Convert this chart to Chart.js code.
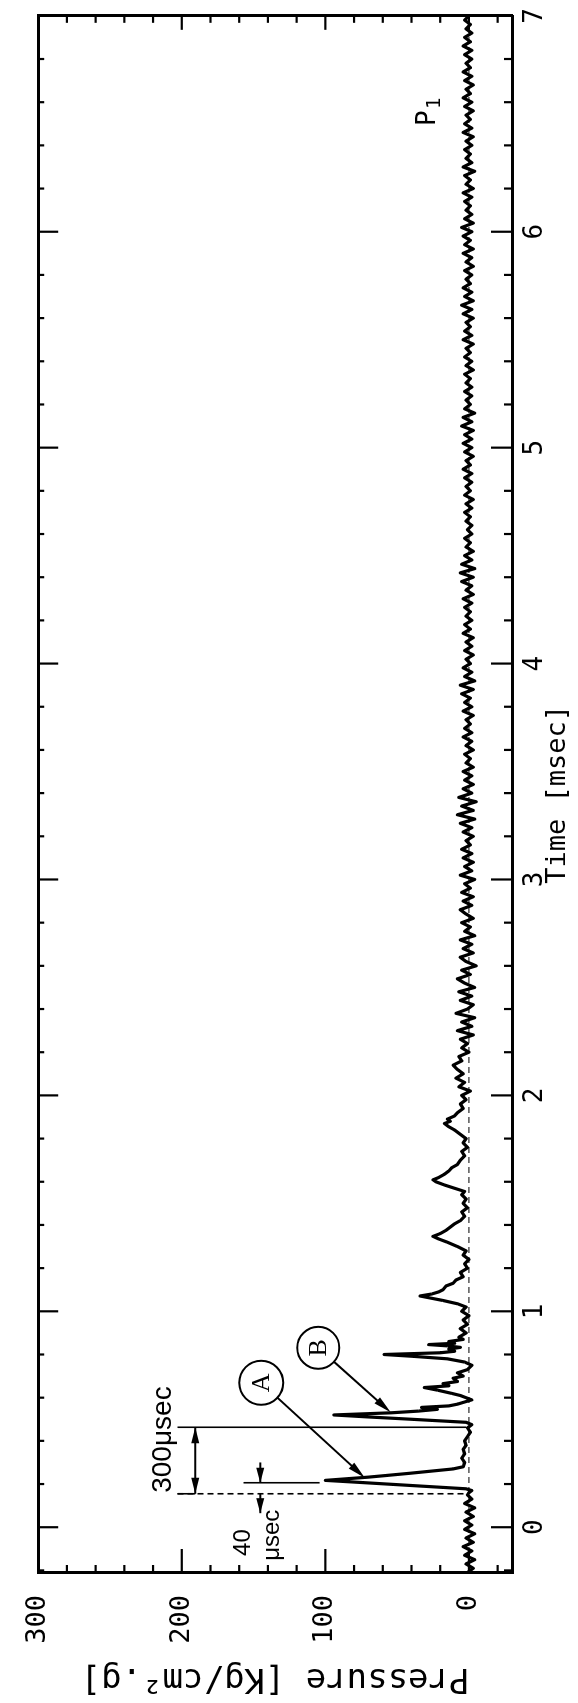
<!DOCTYPE html>
<html><head><meta charset="utf-8">
<script src="https://cdn.jsdelivr.net/npm/chart.js@4.4.1/dist/chart.umd.min.js"></script>
<style>
html,body{margin:0;padding:0;width:578px;height:1703px;overflow:hidden;background:#fff;}
#wrap{position:absolute;left:0;top:0;width:1703px;height:578px;transform-origin:0 0;transform:translate(0px,1703px) rotate(-90deg);}
canvas{display:block;}
</style></head><body>
<div id="wrap"><canvas id="c" width="1703" height="578"></canvas></div>
<script>
// ---------- data ----------
const timeTicks = [0, 1, 2, 3, 4, 5, 6, 7];
const timeTickLabels = ['0', '1', '2', '3', '4', '5', '6', '7'];
const pressureTicks = [0, 100, 200, 300];
const pressureTickLabels = ['0', '100', '200', '300'];

// baseline before the first spike (time = start + i*step, ms)
const noiseAStart = -0.21, noiseAStep = 0.02;
const noiseA = [1,-3,2,-4,3,-2,4,-3,2,-4,3,-2,3,-3,2,-4,3,-2,1];

// detailed part with the pressure spikes (ms, kg/cm2.g)
const detailTime = [
 0.16,0.17,0.178,0.19,0.20,0.21,0.217,0.232,0.24,0.25,0.26,0.27,0.28,
 0.30,0.32,0.34,0.36,0.38,0.40,0.42,0.44,0.46,0.475,0.486,
 0.50,0.51,0.52,0.53,0.538,0.546,0.555,0.562,0.57,0.58,0.59,
 0.60,0.61,0.62,0.635,0.647,0.655,0.665,0.675,0.69,0.70,0.715,0.73,0.75,0.765,
 0.78,0.792,0.80,0.808,0.815,0.825,0.833,0.84,0.846,0.852,0.86,0.87,0.88,
 0.90,0.92,0.94,0.96,0.98,1.00,1.02,
 1.035,1.05,1.063,1.071,1.08,1.09,1.10,1.117,1.13,1.145,1.16,1.18,1.20,1.22,1.24,1.26,1.28,
 1.30,1.32,1.335,1.347,1.36,1.375,1.39,1.405,1.42,1.44,1.46,1.48,1.50,1.52,1.54,1.555,
 1.57,1.585,1.60,1.609,1.62,1.635,1.65,1.665,1.68,1.70,1.72,1.74,1.76,1.78,1.80,
 1.82,1.84,1.855,1.87,1.88,1.89,1.905,1.92,1.94,1.96,1.98,
 2.00,2.02,2.04,2.06,2.08,2.10,2.12,2.14,2.16,2.18,2.20,2.22,2.24
];
const detailPressure = [
 0,-2,2,32,57,82,100,70,57,41,26,11,4,
 3,5,3,4,2,3,1,-1,1,-2,2,
 40,68,94,54,35,22,33,14,8,3,-2,
 2,6,12,22,31,14,18,8,11,4,8,1,-2,3,
 15,40,59,20,10,14,6,15,28,10,14,4,7,
 2,6,1,4,0,5,2,
 8,18,28,34,26,21,18,16,11,9,4,6,1,3,0,4,2,
 8,15,21,25,20,16,13,10,6,3,5,1,4,2,5,3,
 10,17,23,25,21,17,14,12,8,6,3,5,1,4,2,
 6,10,14,17,13,15,10,8,4,6,2,
 5,-1,7,3,9,4,8,11,5,7,0,5,1
];

// baseline after 2.26 ms (time = start + i*step, ms)
const noiseCStart = 2.26, noiseCStep = 0.02;
const noiseC = [
 6,-3,8,-2,5,-4,9,1,-3,6,
 -2,7,-4,3,8,-1,5,-5,2,6,
 -3,4,-2,6,-4,3,-1,5,-3,2,
 6,-2,4,-3,5,-1,3,-4,6,-2,
 3,-3,4,-2,5,-1,2,-3,4,-2,
 6,-4,8,-3,5,-5,7,-2,4,-3,
 3,-2,4,-3,2,-1,3,-3,2,-2,
 4,-2,3,-1,2,-3,4,-2,3,-1,
 5,-3,6,-4,3,-2,4,-1,2,-3,
 3,-2,2,-3,4,-1,3,-2,2,-1,
 3,-2,4,-3,2,-2,5,-3,6,-4,
 5,-2,3,-3,2,-1,3,-2,1,-2,
 2,-1,3,-2,2,-3,3,-1,2,-2,
 3,-2,4,-1,2,-3,3,-2,4,-2,
 3,-3,5,-2,4,-4,3,-1,2,-2,
 3,-2,2,-1,3,-3,2,-2,3,-1,
 2,-3,4,-2,3,-1,2,-3,4,-2,
 5,-3,3,-2,4,-1,2,-2,3,-3,
 2,-2,4,-3,3,-1,4,-2,5,-3,
 3,-2,2,-1,3,-2,4,-3,2,-1,
 3,-4,4,-2,2,-1,3,-2,2,-3,
 4,-2,3,-1,2,-3,3,-2,4,-1,
 2,-3,3,-2,4,-1,2,-2,3,-2,
 4,-1,3,-2,2,-1,3,0
];

// ---------- build points ----------
const points = [];
noiseA.forEach((v, i) => points.push({x: +(noiseAStart + i * noiseAStep).toFixed(3), y: v}));
detailTime.forEach((t, i) => points.push({x: t, y: detailPressure[i]}));
noiseC.forEach((v, i) => points.push({x: +(noiseCStart + i * noiseCStep).toFixed(3), y: v}));

// ---------- annotation layout (data coordinates) ----------
const ann = {
  lowerT: 0.155, upperT: 0.463, extP0: 203, extP1: 2, bracketP: 190.6,
  fortyT: 0.206, fortyP0: 157, fortyP1: 104, fortyArrowP: 145.3,
  circA: {t: 0.669, p: 144.7, r: 22, tipT: 0.229, tipP: 72.5, label: 'A'},
  circB: {t: 0.831, p: 104.9, r: 21, tipT: 0.532, tipP: 54.5, label: 'B'},
  text300: {t: 0.406, p: 213}, text40: {t: -0.071, p: 157}, textMu: {t: -0.037, p: 136.6},
  p1: {t: 6.49, p: 23.3}
};

function drawArrowHead(ctx, x1, y1, x2, y2, len, half) {
  const a = Math.atan2(y2 - y1, x2 - x1);
  ctx.beginPath();
  ctx.moveTo(x2, y2);
  ctx.lineTo(x2 - len * Math.cos(a) + half * Math.sin(a), y2 - len * Math.sin(a) - half * Math.cos(a));
  ctx.lineTo(x2 - len * Math.cos(a) - half * Math.sin(a), y2 - len * Math.sin(a) + half * Math.cos(a));
  ctx.closePath();
  ctx.fill();
}
function seg(ctx, x1, y1, x2, y2) { ctx.beginPath(); ctx.moveTo(x1, y1); ctx.lineTo(x2, y2); ctx.stroke(); }

const annotPlugin = {
  id: 'annot',
  afterDatasetsDraw(chart) {
    const ctx = chart.ctx, xs = chart.scales.x, ys = chart.scales.y, ca = chart.chartArea;
    const X = v => xs.getPixelForValue(v), Y = v => ys.getPixelForValue(v);
    ctx.save();
    ctx.strokeStyle = '#000'; ctx.fillStyle = '#000';
    // zero reference line
    ctx.lineWidth = 1; ctx.setLineDash([6, 4]);
    seg(ctx, ca.left, Y(0), ca.right, Y(0));
    // extension lines
    ctx.lineWidth = 1.6;
    seg(ctx, X(ann.lowerT), Y(ann.extP0), X(ann.lowerT), Y(ann.extP1));
    ctx.setLineDash([]);
    seg(ctx, X(ann.upperT), Y(ann.extP0), X(ann.upperT), Y(ann.extP1));
    seg(ctx, X(ann.lowerT), Y(ann.extP0), X(ann.lowerT), Y(ann.bracketP));
    // bracket with arrows
    ctx.lineWidth = 2;
    const bx0 = X(ann.lowerT), bx1 = X(ann.upperT), by = Y(ann.bracketP);
    seg(ctx, bx0, by, bx1, by);
    drawArrowHead(ctx, bx0 + 30, by, bx1, by, 16, 4);
    drawArrowHead(ctx, bx1 - 30, by, bx0, by, 16, 4);
    // 40 usec marker
    ctx.lineWidth = 1.6;
    seg(ctx, X(ann.fortyT), Y(ann.fortyP0), X(ann.fortyT), Y(ann.fortyP1));
    ctx.lineWidth = 2;
    const fy = Y(ann.fortyArrowP);
    seg(ctx, X(0.30), fy, X(ann.fortyT), fy);
    drawArrowHead(ctx, X(0.30), fy, X(ann.fortyT), fy, 15, 4);
    seg(ctx, X(0.158), fy, X(0.065), fy);
    drawArrowHead(ctx, X(0.158), fy, X(0.065), fy, 15, 4);
    // circles with arrows
    [ann.circA, ann.circB].forEach(c => {
      const cx = X(c.t), cy = Y(c.p), tx = X(c.tipT), ty = Y(c.tipP);
      ctx.lineWidth = 2;
      ctx.beginPath(); ctx.arc(cx, cy, c.r, 0, Math.PI * 2); ctx.stroke();
      const d = Math.hypot(tx - cx, ty - cy), ux = (tx - cx) / d, uy = (ty - cy) / d;
      const sx = cx + ux * c.r, sy = cy + uy * c.r;
      seg(ctx, sx, sy, tx - ux * 6, ty - uy * 6);
      drawArrowHead(ctx, sx, sy, tx, ty, 18, 4);
      ctx.font = '26px "Liberation Serif"'; ctx.textAlign = 'center'; ctx.textBaseline = 'middle';
      ctx.fillText(c.label, cx, cy + 1);
    });
    // texts
    ctx.textAlign = 'center'; ctx.textBaseline = 'middle';
    ctx.font = '28px "Liberation Sans"';
    ctx.fillText('300\u03bcsec', X(ann.text300.t), Y(ann.text300.p));
    ctx.font = '24px "Liberation Sans"';
    ctx.fillText('40', X(ann.text40.t), Y(ann.text40.p));
    ctx.fillText('\u03bcsec', X(ann.textMu.t), Y(ann.textMu.p));
    // P1 label
    ctx.textAlign = 'left'; ctx.textBaseline = 'alphabetic';
    ctx.font = '26px "DejaVu Sans Mono"';
    const px = X(ann.p1.t), py = Y(ann.p1.p);
    ctx.fillText('P', px, py);
    ctx.font = '19px "DejaVu Sans Mono"';
    ctx.fillText('1', px + 17, py + 5);
    ctx.restore();
  },
  afterDraw(chart) {
    const ctx = chart.ctx, xs = chart.scales.x, ys = chart.scales.y, ca = chart.chartArea;
    ctx.save();
    ctx.strokeStyle = '#000'; ctx.lineWidth = 2.2; ctx.setLineDash([]);
    for (let k = -1; k <= 35; k++) {
      const t = k * 0.2;
      if (t < xs.min || t > xs.max) continue;
      const x = xs.getPixelForValue(t);
      const major = Math.abs(t - Math.round(t)) < 1e-6;
      seg(ctx, x, ca.bottom, x, ca.bottom - (major ? 21 : 8));
      seg(ctx, x, ca.top, x, ca.top + (major ? 20 : 6));
    }
    for (let v = -20; v <= 280; v += 20) {
      const y = ys.getPixelForValue(v);
      const major = v % 100 === 0;
      seg(ctx, ca.left, y, ca.left + (major ? 24 : 8), y);
      seg(ctx, ca.right, y, ca.right - (major ? 14 : 7), y);
    }
    ctx.restore();
  }
};

const monoFont = 'DejaVu Sans Mono';
const chart = new Chart(document.getElementById('c'), {
  type: 'line',
  data: { datasets: [{ data: points, borderColor: '#000', borderWidth: 3.2, pointRadius: 0, tension: 0,
    fill: false, borderJoinStyle: 'round', borderCapStyle: 'round' }] },
  options: {
    responsive: false, animation: false, devicePixelRatio: 1,
    layout: { padding: { top: 23, right: 10, left: 0, bottom: 0 } },
    plugins: { legend: { display: false }, tooltip: { enabled: false } },
    scales: {
      x: {
        type: 'linear', position: 'bottom', min: -0.212, max: 7,
        afterBuildTicks: s => { s.ticks = timeTicks.map(v => ({ value: v })); },
        afterFit: s => { s.height = 66; },
        grid: { display: false, drawTicks: false },
        border: { display: true, color: '#000', width: 3 },
        ticks: { padding: 8, color: '#000', autoSkip: false, maxRotation: 0,
          font: { family: monoFont, size: 26 },
          callback: v => { const i = timeTicks.indexOf(v); return i >= 0 ? timeTickLabels[i] : ''; } },
        title: { display: true, text: 'Time [msec]', color: '#000',
          font: { family: monoFont, size: 27 }, padding: { top: 0, bottom: 4 } }
      },
      x2: {
        type: 'linear', position: 'top', min: -0.212, max: 7,
        afterFit: s => { s.height = 0; },
        grid: { display: false, drawTicks: false },
        border: { display: true, color: '#000', width: 3 },
        ticks: { display: false }
      },
      y: {
        type: 'linear', position: 'left', min: -30, max: 300,
        afterBuildTicks: s => { s.ticks = pressureTicks.map(v => ({ value: v })); },
        afterFit: s => { s.width = 130; },
        grid: { display: false, drawTicks: false },
        border: { display: true, color: '#000', width: 3 },
        ticks: { padding: 22, color: '#000', autoSkip: false,
          font: { family: monoFont, size: 27 },
          callback: v => { const i = pressureTicks.indexOf(v); return i >= 0 ? pressureTickLabels[i] : ''; } },
        title: { display: true, text: 'Pressure [Kg/cm\u00b2.g]', color: '#000',
          font: { family: monoFont, size: 34 }, padding: { top: 5, bottom: 0 } }
      },
      y2: {
        type: 'linear', position: 'right', min: -30, max: 300,
        afterFit: s => { s.width = 0; },
        grid: { display: false, drawTicks: false },
        border: { display: true, color: '#000', width: 3 },
        ticks: { display: false }
      }
    }
  },
  plugins: [annotPlugin]
});
</script>
</body></html>
